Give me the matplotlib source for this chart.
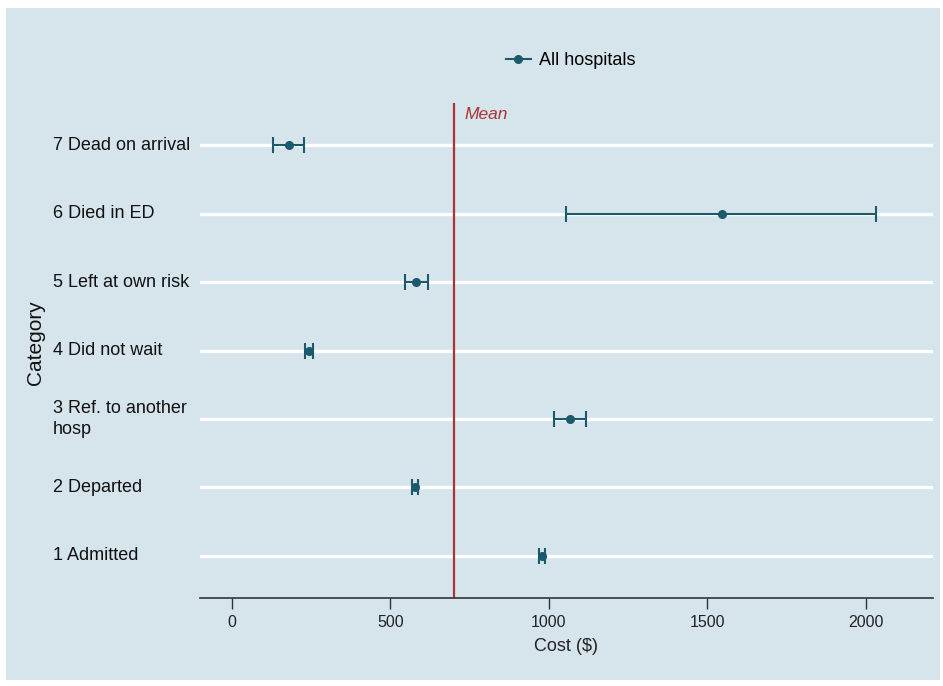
import matplotlib.pyplot as plt
import matplotlib.transforms as mtransforms
from matplotlib.patches import Rectangle
from matplotlib.lines import Line2D
import numpy as np

plt.rcParams['font.family'] = ['Liberation Sans', 'DejaVu Sans']

# cost per discharge category, mean with 95% CI
categories = ["1 Admitted", "2 Departed", "3 Ref. to another\nhosp", "4 Did not wait",
              "5 Left at own risk", "6 Died in ED", "7 Dead on arrival"]
cost_mean = [978, 577, 1066, 243, 580, 1546, 180]
ci_low = [969, 569, 1016, 231, 546, 1054, 129]
ci_high = [987, 586, 1116, 256, 618, 2032, 227]
overall_mean = 700
xticks = [0, 500, 1000, 1500, 2000]

bg = "#d6e4ec"
teal = "#1b5a6c"
red = "#a83434"

fig = plt.figure(figsize=(9.43, 6.86), dpi=100, facecolor="white")
fig.patches.append(Rectangle((6 / 943, 6 / 686), 934 / 943, 672 / 686,
                             transform=fig.transFigure, facecolor=bg,
                             edgecolor="none", zorder=-10))
ax = fig.add_axes([0.212, 0.128, 0.777, 0.722])
ax.set_facecolor(bg)

y = np.arange(1, len(categories) + 1)
ax.set_xlim(-100, 2210)
ax.set_ylim(0.38, 7.62)

for yi in y:
    ax.axhline(yi, color="white", lw=2.4, zorder=1)

ax.axvline(overall_mean, color=red, lw=1.6, zorder=2)
ax.text(overall_mean + 35, 7.45, "Mean", color=red, style="italic",
        fontsize=12.5, va="center", ha="left")

mean = np.array(cost_mean)
err = [mean - np.array(ci_low), np.array(ci_high) - mean]
ax.errorbar(mean, y, xerr=err, fmt="o", color=teal, ms=5.5, lw=1.5,
            capsize=6, capthick=1.5, zorder=3)

ax.set_xticks(xticks)
ax.set_xticklabels([str(t) for t in xticks], fontsize=11.5, color="#222222")
ax.tick_params(axis="x", length=8, width=1, color="#333333", pad=4)
ax.set_yticks([])
for s in ["top", "right", "left"]:
    ax.spines[s].set_visible(False)
ax.spines["bottom"].set_color("#333333")
ax.spines["bottom"].set_linewidth(1.2)

ax.set_xlabel("Cost ($)", fontsize=13, color="#222222", labelpad=6)

trans = mtransforms.blended_transform_factory(fig.transFigure, ax.transData)
for yi, lab in zip(y, categories):
    ax.text(53 / 943, yi, lab, transform=trans, ha="left", va="center",
            fontsize=13, color="#111111", linespacing=1.3)

fig.text(36 / 943, 0.5, "Category", rotation=90, ha="center", va="center",
         fontsize=15, color="#111111")

handle = Line2D([], [], color=teal, marker="o", ms=5.5, lw=1.5)
ax.legend([handle], ["All hospitals"], loc="center", bbox_to_anchor=(0.506, 1.085),
          frameon=False, fontsize=13, handlelength=1.4, handletextpad=0.45)

fig.savefig("out.png", dpi=100, facecolor=fig.get_facecolor())
